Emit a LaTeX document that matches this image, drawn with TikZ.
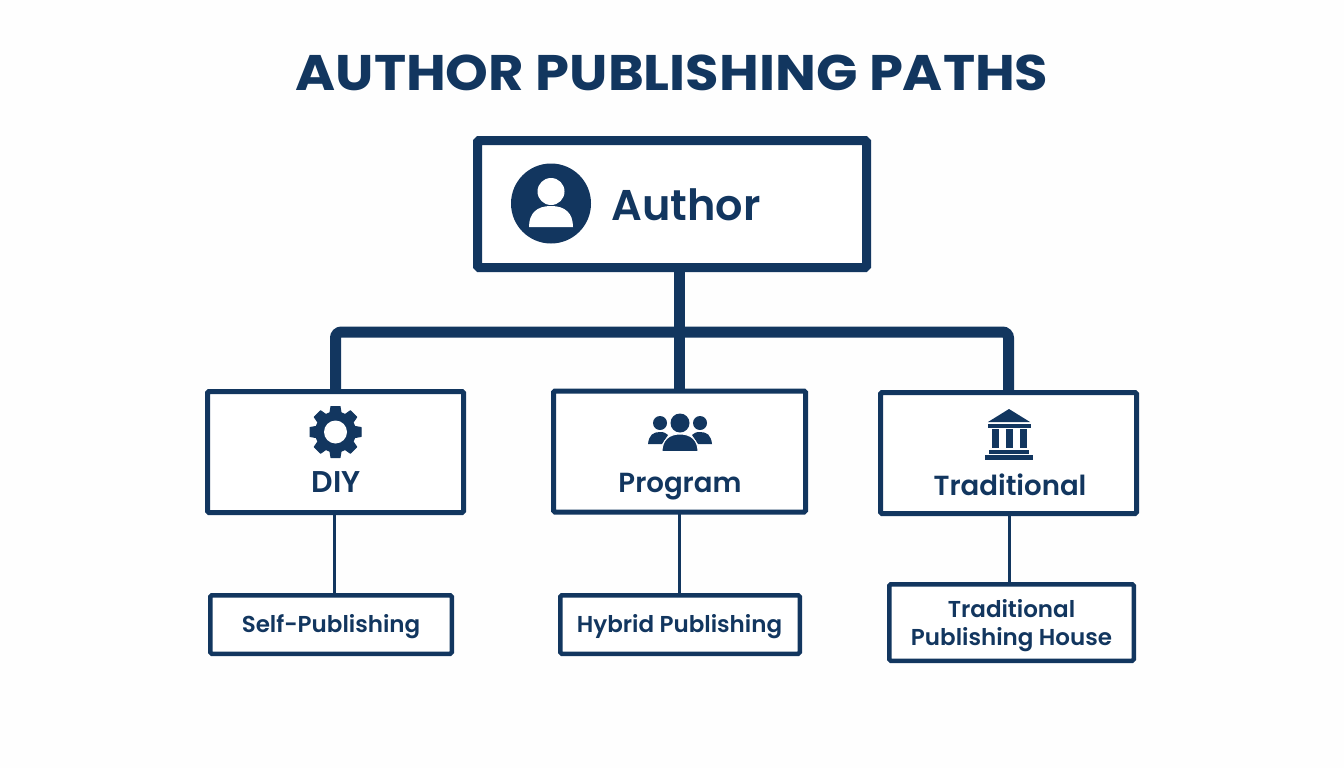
\documentclass[tikz,border=0pt]{standalone}
\usepackage{fontspec}
\setmainfont{Poppins SemiBold}
\newfontfamily\titlefont{Poppins Bold}[FakeStretch=1.088]
\usetikzlibrary{positioning}
\definecolor{navy}{HTML}{12365F}
\definecolor{paper}{HTML}{FEFEFE}
\tikzset{
  box/.style={draw=navy,fill=white,line width=#1,rounded corners=1.5,inner sep=0pt,outer sep=0pt},
  midbox/.style={box=5pt,minimum width=256pt,minimum height=121pt},
  subbox/.style={box=4.5pt,minimum height=58.5pt},
  word/.style={text=navy,inner sep=0pt,align=center},
  midword/.style={word,font=\fontsize{27.6}{32}\selectfont},
  subword/.style={word,font=\fontsize{23}{28}\selectfont},
  thick line/.style={draw=navy,line width=11pt},
  thin line/.style={draw=navy,line width=3pt}
}
\begin{document}
\begin{tikzpicture}[x=1pt,y=-1pt]
   \useasboundingbox[fill=paper] (0,0) rectangle (1344,768);
   \node [word,font=\titlefont\fontsize{50}{60}\selectfont] (title) at (672,73) {AUTHOR PUBLISHING PATHS};
   % boxes
   \node [box=9pt,minimum width=389pt,minimum height=127pt] (author) at (672,204) {};
   \node [midbox] (diy) at (335.5,452) {};
   \node [midbox,minimum width=252pt] (program) at (679.5,451.5) {};
   \node [midbox] (traditional) at (1008.5,453) {};
   \node [subbox,minimum width=241.5pt] (self) at (331,624.5) {};
   \node [subbox,minimum width=239.5pt] (hybrid) at (680,624.5) {};
   \node [subbox,minimum width=244.5pt,minimum height=76.5pt] (house) at (1011.5,622.5) {};
   % labels
   \node [word,font=\fontsize{43}{48}\selectfont] (authorlabel) at (686,205) {Author};
   \node [midword,font=\fontsize{30}{32}\selectfont] (diylabel) at (336,482) {DIY};
   \node [midword] (programlabel) at (680,486.5) {Program};
   \node [midword] (traditionallabel) at (1010,485) {Traditional};
   \node [subword] (selflabel) at (331,626.5) {Self-Publishing};
   \node [subword] (hybridlabel) at (679.5,626.5) {Hybrid Publishing};
   \node [subword] (houselabel) at (1011.5,626) {Traditional\\Publishing House};
   % connectors
   \coordinate (bus) at (679.5,332);
   \draw [thick line] (author.south -| bus) -- (program.north);
   \draw [thick line,rounded corners=6pt] (diy.north) |- (bus) -| (traditional.north);
   \draw [thin line] ([xshift=-1.5pt]diy.south) -- ([xshift=-1.5pt]self.north -| diy.south);
   \draw [thin line] (program.south) -- (hybrid.north -| program.south);
   \draw [thin line] ([xshift=1pt]traditional.south) -- ([xshift=1pt]house.north -| traditional.south);
   % person icon
   \fill [navy] (551,203.5) circle (40);
   \fill [white] (551,191.5) circle (13.5);
   \fill [white] (529,227) .. controls (529,213) and (537,206) .. (551,206)
      .. controls (565,206) and (573,213) .. (573,227) -- cycle;
   % gear icon
   \fill [navy] (335.5,432) circle (20.5);
   \foreach \a in {0,45,...,315}
     \fill [navy,rotate around={\a:(335.5,432)},line join=round,draw=navy,line width=1pt]
       (331,406.5) -- (340,406.5) -- (342,418) -- (329,418) -- cycle;
   \fill [white] (335.5,432) circle (11.5);
   % people icon
   \fill [navy] (660,423) circle (7) (700,423) circle (7);
   \fill [navy] (648,444) .. controls (649,435) and (653,432) .. (660,432)
      .. controls (664,432) and (666,433) .. (668,435) -- (662,444) -- cycle;
   \fill [navy] (712,444) .. controls (711,435) and (707,432) .. (700,432)
      .. controls (696,432) and (694,433) .. (692,435) -- (698,444) -- cycle;
   \fill [navy] (680,423) circle (9.5);
   \filldraw [fill=navy,draw=white,line width=1pt] (662,451.5) .. controls (662,440) and (669,434) .. (680,434)
      .. controls (691,434) and (698,440) .. (698,451.5) -- cycle;
   % bank icon
   \fill [navy] (1009,409) -- (1030,422) -- (988,422) -- cycle;
   \fill [navy] (988,423.5) rectangle (1031,427.5);
   \foreach \c in {992,1006,1020}
     \fill [navy] (\c,429) rectangle ++(7,19);
   \fill [navy] (989,449.5) rectangle (1029,453.5);
   \fill [navy] (985,455) rectangle (1033,459.5);
\end{tikzpicture}
\end{document}
